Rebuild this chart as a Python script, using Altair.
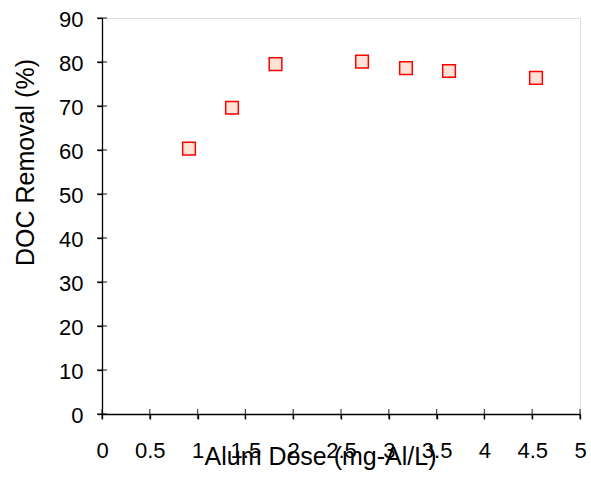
import altair as alt
import pandas as pd

dose = [0.91, 1.36, 1.815, 2.72, 3.18, 3.63, 4.54]
removal = [60.3, 69.6, 79.5, 80.1, 78.6, 77.95, 76.4]
x_ticks = [0, 0.5, 1, 1.5, 2, 2.5, 3, 3.5, 4, 4.5, 5]
y_ticks = [0, 10, 20, 30, 40, 50, 60, 70, 80, 90]

df = pd.DataFrame({"dose": dose, "removal": removal})
xt = pd.DataFrame({"v": x_ticks})
yt = pd.DataFrame({"v": y_ticks})

FONT = "Liberation Sans"

xscale = alt.Scale(domain=[0, 5], nice=False, zero=False)
yscale = alt.Scale(domain=[0, 90], nice=False, zero=False)

x_axis = alt.Axis(
    title="Alum Dose (mg-Al/L)", values=x_ticks, format="~g", grid=False,
    domainColor="black", domainWidth=1.3, tickColor="black", tickSize=5, tickWidth=1.3,
    labelFont=FONT, labelFontSize=22, labelColor="black", labelPadding=21, labelFlush=False,
    titleFont=FONT, titleFontSize=25, titleFontWeight="normal", titleColor="black",
    titleX=218, titleY=50, titleBaseline="alphabetic", titleAlign="center",
)
y_axis = alt.Axis(
    title="DOC Removal (%)", values=y_ticks, grid=False,
    domainColor="black", domainWidth=1.3, tickColor="black", tickSize=5, tickWidth=1.3,
    labelFont=FONT, labelFontSize=22, labelColor="black", labelPadding=14, labelFlush=False,
    labelOffset=1.5,
    titleFont=FONT, titleFontSize=25, titleFontWeight="normal", titleColor="black",
    titleX=-69, titleY=144, titleAngle=270, titleBaseline="alphabetic", titleAlign="center",
)

points = alt.Chart(df).mark_point(
    shape="square", filled=True, size=160, fill="#FDE3D6", stroke="#FF0000",
    strokeWidth=1.5, opacity=1, fillOpacity=1,
).encode(
    x=alt.X("dose:Q", scale=xscale, axis=x_axis),
    y=alt.Y("removal:Q", scale=yscale, axis=y_axis),
)

xtick_marks = alt.Chart(xt).mark_tick(
    orient="vertical", size=10, thickness=1.3, color="black"
).encode(x=alt.X("v:Q", scale=xscale), y=alt.Y(datum=0, scale=yscale))

ytick_marks = alt.Chart(yt).mark_tick(
    orient="horizontal", size=10, thickness=1.3, color="black"
).encode(y=alt.Y("v:Q", scale=yscale), x=alt.X(datum=0, scale=xscale))

chart = alt.layer(xtick_marks, ytick_marks, points).properties(
    width=478, height=396,
    autosize=alt.AutoSizeParams(type="none"),
    padding={"left": 102, "top": 18, "right": 11, "bottom": 66},
).configure_view(stroke=None).configure(background="white")

chart.save("out.html", embed_options={"renderer": "svg", "actions": False})
